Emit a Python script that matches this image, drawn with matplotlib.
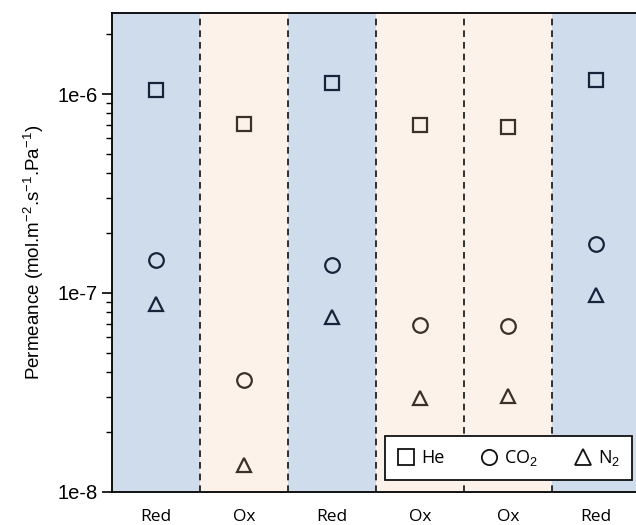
import matplotlib.pyplot as plt
import numpy as np
from matplotlib.lines import Line2D

# conditions for each step, and permeance per gas
conditions = ['Red', 'Ox', 'Red', 'Ox', 'Ox', 'Red']
he = [1.05e-6, 7.1e-7, 1.14e-6, 6.95e-7, 6.8e-7, 1.18e-6]
co2 = [1.47e-7, 3.65e-8, 1.39e-7, 6.9e-8, 6.8e-8, 1.77e-7]
n2 = [8.8e-8, 1.36e-8, 7.6e-8, 2.95e-8, 3.05e-8, 9.8e-8]

fill_colors = {'Red': '#cfdcec', 'Ox': '#fdf2e9'}
mark_colors = {'Red': '#17233a', 'Ox': '#3b302a'}

plt.rcParams['mathtext.fontset'] = 'custom'
plt.rcParams['mathtext.rm'] = 'Liberation Sans'
plt.rcParams['mathtext.it'] = 'Liberation Sans:italic'

fig = plt.figure(figsize=(6.36, 5.25), dpi=100)
ax = fig.add_axes([0.176, 0.063, 0.824, 0.912])

x = np.arange(len(conditions))
for i, c in enumerate(conditions):
    ax.axvspan(i - 0.5, i + 0.5, color=fill_colors[c], lw=0, zorder=0)
for i in range(1, len(conditions)):
    ax.axvline(i - 0.5, color='#111111', ls=(0, (4, 3)), lw=1.2, zorder=1)

for vals, m in [(he, 's'), (co2, 'o'), (n2, '^')]:
    for i, c in enumerate(conditions):
        ax.plot(x[i], vals[i], marker=m, ms=10.5, mfc='none', mec=mark_colors[c],
                mew=1.6, ls='none', zorder=3)

ax.set_yscale('log')
ax.set_ylim(1e-8, 2.55e-6)
ax.set_xlim(-0.5, 5.455)
ax.set_yticks([1e-8, 1e-7, 1e-6])
ax.set_yticklabels(['1e-8', '1e-7', '1e-6'], fontsize=14.5, family='Liberation Sans')
ax.set_xticks(x)
ax.set_xticklabels(conditions, fontsize=12.5, family='Open Sans')
ax.tick_params(axis='x', length=0, pad=12)
ax.tick_params(axis='y', which='major', length=7, width=1.2, direction='out')
ax.tick_params(axis='y', which='minor', length=4, width=1.0, direction='out')
ax.spines['right'].set_visible(False)
for s in ['left', 'bottom', 'top']:
    ax.spines[s].set_linewidth(1.3)
ax.set_ylabel('Permeance (mol.m$^{-2}$.s$^{-1}$.Pa$^{-1}$)', fontsize=13.5,
              family='Liberation Sans', labelpad=8)

handles = [Line2D([], [], marker='s', ms=11, mfc='none', mec='#111111', mew=1.3, ls='none'),
           Line2D([], [], marker='o', ms=11, mfc='none', mec='#111111', mew=1.3, ls='none'),
           Line2D([], [], marker='^', ms=11, mfc='none', mec='#111111', mew=1.3, ls='none')]
leg = ax.legend(handles, ['He', 'CO$_2$', 'N$_2$'], ncol=3, loc='lower right',
                bbox_to_anchor=(0.992, 0.025), borderaxespad=0, fancybox=False,
                framealpha=1, edgecolor='#111111', handletextpad=0.35,
                columnspacing=1.95, handlelength=1.0, borderpad=0.65,
                prop={'family': 'Open Sans', 'size': 13})
leg.get_frame().set_linewidth(1.3)

fig.savefig('out.png', dpi=100)
